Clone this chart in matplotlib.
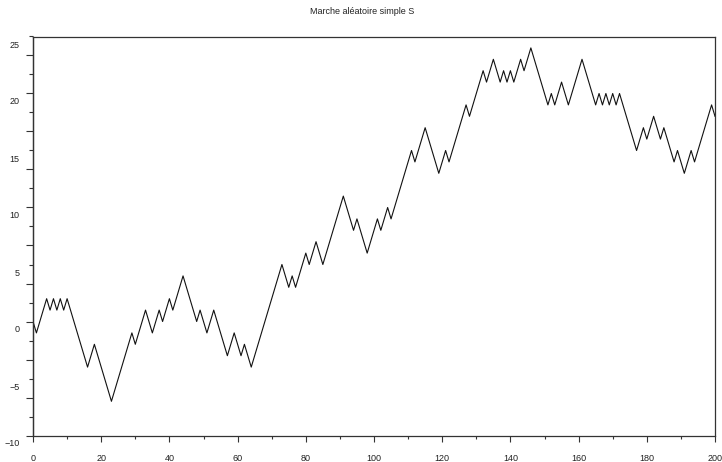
import numpy as np
import matplotlib
matplotlib.use("Agg")
import matplotlib.pyplot as plt
from matplotlib.transforms import ScaledTranslation

plt.rcParams['font.family'] = ['Liberation Sans', 'DejaVu Sans']

# Position of the simple random walk S_n, n = 0..200
walk_a = [0, -1, 0, 1, 2, 1, 2, 1, 2, 1, 2, 1, 0, -1, -2, -3, -4, -3, -2, -3,
          -4, -5, -6, -7, -6, -5, -4, -3, -2, -1, -2, -1, 0, 1, 0, -1, 0, 1, 0, 1,
          2, 1, 2, 3, 4, 3, 2, 1, 0, 1]
walk_b = [0, -1, 0, 1, 0, -1, -2, -3, -2, -1, -2, -3, -2, -3, -4, -3, -2, -1, 0, 1,
          2, 3, 4, 5, 4, 3, 4, 3, 4, 5, 6, 5, 6, 7, 6, 5, 6, 7, 8, 9,
          10, 11, 10, 9, 8, 9, 8, 7, 6, 7]
walk_c = [8, 9, 8, 9, 10, 9, 10, 11, 12, 13, 14, 15, 14, 15, 16, 17, 16, 15, 14, 13,
          14, 15, 14, 15, 16, 17, 18, 19, 18, 19, 20, 21, 22, 21, 22, 23, 22, 21, 22, 21,
          22, 21, 22, 23, 22, 23, 24, 23, 22, 21]
walk_d = [20, 19, 20, 19, 20, 21, 20, 19, 20, 21, 22, 23, 22, 21, 20, 19, 20, 19, 20, 19,
          20, 19, 20, 19, 18, 17, 16, 15, 16, 17, 16, 17, 18, 17, 16, 17, 16, 15, 14, 15,
          14, 13, 14, 15, 14, 15, 16, 17, 18, 19, 18]

S = np.array(walk_a + walk_b + walk_c + walk_d)
n = np.arange(len(S))

x_label_ticks = np.arange(0, 201, 20)
y_label_ticks = np.arange(-10, 26, 5)

fig = plt.figure(figsize=(7.22, 4.62), dpi=100)
ax = fig.add_axes([33 / 722, 1 - 435.5 / 462, 682 / 722, 399 / 462])

ax.plot(n, S, color='#111111', linewidth=0.8)

ax.set_xlim(0, 200)
ax.set_ylim(-10, 25)

for sp in ax.spines.values():
    sp.set_color('#333333')
    sp.set_linewidth(0.9)

# x axis: labelled ticks every 20, small ticks every 10
ax.set_xticks(x_label_ticks)
ax.set_xticks(np.arange(10, 200, 20), minor=True)
ax.tick_params(axis='x', which='major', direction='out', length=4, width=0.8,
               color='#333333', labelsize=6.5, labelcolor='#222222', pad=9.5)
ax.tick_params(axis='x', which='minor', direction='out', length=2.5, width=0.8,
               color='#333333')

# y axis labels (marks are drawn on the secondary axis below)
ax.set_yticks(y_label_ticks)
ax.tick_params(axis='y', which='major', length=0, labelsize=6.5,
               labelcolor='#222222', pad=9.5)
shift = ScaledTranslation(0, -8.5 / 100, fig.dpi_scale_trans)
for lbl in ax.get_yticklabels():
    lbl.set_va('center')
    lbl.set_transform(lbl.get_transform() + shift)

# y axis tick marks
sec = ax.secondary_yaxis('left')
sec.set_yticks(np.arange(-10, 25.01, 10 / 3))
sec.set_yticks(np.arange(-10 + 5 / 3, 25.01, 10 / 3), minor=True)
sec.tick_params(axis='y', which='major', direction='out', length=5, width=0.8,
                color='#333333', labelleft=False)
sec.tick_params(axis='y', which='minor', direction='out', length=3, width=0.8,
                color='#333333', labelleft=False)
sec.spines['left'].set_color('#333333')
sec.spines['left'].set_linewidth(0.9)

fig.text(362 / 722, 1 - 12 / 462, 'Marche aléatoire simple S', ha='center',
         va='center', fontsize=6.5, color='#222222')

fig.savefig('out.png', dpi=100, facecolor='white')
